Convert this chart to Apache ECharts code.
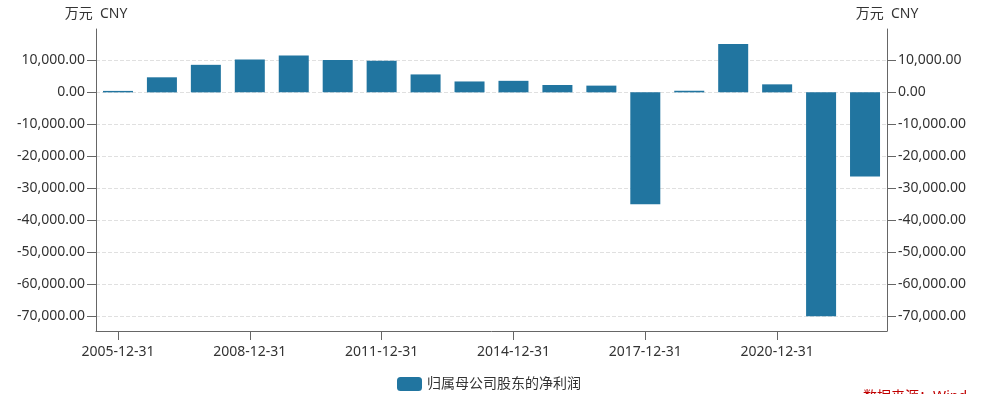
<!DOCTYPE html>
<html>
<head>
<meta charset="utf-8">
<script src="https://cdn.jsdelivr.net/npm/echarts@6/dist/echarts.min.js"></script>
<style>
html,body{margin:0;padding:0;background:#fff;}
#c{width:997px;height:394px;}
</style>
</head>
<body>
<div id="c"></div>
<script>
const categories = ['2005-12-31','2006-12-31','2007-12-31','2008-12-31','2009-12-31','2010-12-31','2011-12-31','2012-12-31','2013-12-31','2014-12-31','2015-12-31','2016-12-31','2017-12-31','2018-12-31','2019-12-31','2020-12-31','2021-12-31','2022-12-31'];
const netProfit = [450, 4700, 8600, 10300, 11500, 10100, 9900, 5600, 3400, 3600, 2300, 2100, -35000, 500, 15100, 2500, -70000, -26300];
const yTicks = [-70000, -60000, -50000, -40000, -30000, -20000, -10000, 0, 10000];
const seriesName = '归属母公司股东的净利润';
const unitName = '万元  CNY';
const sourceText = '数据来源：Wind';

const FONT = '"Noto Sans", "Noto Sans CJK SC", sans-serif';
const fmt = v => v.toLocaleString('en-US', {minimumFractionDigits: 2, maximumFractionDigits: 2});

function yAxis(pos, split) {
  return {
    type: 'value',
    position: pos,
    min: -74600,
    max: 19800,
    name: unitName,
    nameLocation: 'end',
    nameGap: 8,
    nameTextStyle: {color: '#333', fontSize: 14, fontFamily: FONT},
    axisLine: {show: true, lineStyle: {color: '#666'}},
    axisTick: {show: true, length: 9, customValues: yTicks, lineStyle: {color: '#666'}},
    axisLabel: {customValues: yTicks, margin: 11, color: '#333', fontSize: 14, fontFamily: FONT, formatter: fmt},
    splitLine: {show: split, lineStyle: {type: 'dashed', color: '#e0e0e0'}}
  };
}

const chart = echarts.init(document.getElementById('c'));
chart.setOption({
  animation: false,
  grid: {left: 96, right: 110, top: 29, bottom: 63, containLabel: false},
  legend: {
    left: 392, top: 372,
    itemWidth: 25, itemHeight: 14, itemGap: 10,
    textStyle: {color: '#333', fontSize: 14, fontFamily: FONT},
    data: [seriesName]
  },
  xAxis: {
    type: 'category',
    data: categories,
    axisLine: {onZero: false, lineStyle: {color: '#666'}},
    axisTick: {show: true, alignWithLabel: true, interval: 2, length: 9, lineStyle: {color: '#666'}},
    axisLabel: {interval: 2, margin: 14, color: '#333', fontSize: 14, fontFamily: FONT}
  },
  yAxis: [yAxis('left', true), yAxis('right', false)],
  graphic: [{
    type: 'text', right: 30, top: 390,
    style: {text: sourceText, fill: '#c00000', fontSize: 14, fontFamily: FONT}
  }],
  series: [{
    name: seriesName,
    type: 'bar',
    barWidth: 30,
    itemStyle: {color: '#2175a0'},
    data: netProfit
  }]
});
</script>
</body>
</html>
